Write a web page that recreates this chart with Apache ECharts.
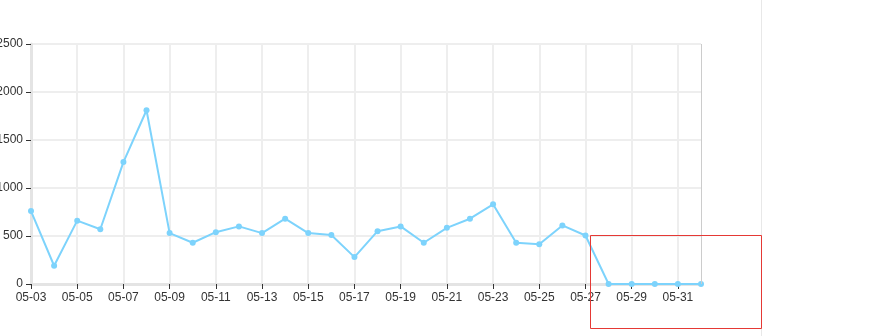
<!DOCTYPE html>
<html>
<head>
<meta charset="utf-8">
<script src="https://cdn.jsdelivr.net/npm/echarts@6/dist/echarts.min.js"></script>
<style>html,body{margin:0;padding:0;background:#fff;}#c{width:870px;height:336px;}</style>
</head>
<body>
<div id="c"></div>
<script>
const categories = ['05-03','05-04','05-05','05-06','05-07','05-08','05-09','05-10','05-11','05-12','05-13','05-14','05-15','05-16','05-17','05-18','05-19','05-20','05-21','05-22','05-23','05-24','05-25','05-26','05-27','05-28','05-29','05-30','05-31','06-01'];
const values = [760,190,660,570,1270,1810,530,430,540,600,530,680,530,510,280,550,600,430,585,680,830,430,415,610,505,0,0,0,0,0];
const yTicks = {min:0, max:2500, interval:500};

const chart = echarts.init(document.getElementById('c'), null, {renderer:'canvas'});
chart.setOption({
  animation:false,
  grid:{left:31, right:169, top:44, bottom:52, show:false, containLabel:false, outerBoundsMode:'none'},
  xAxis:{
    type:'category', data:categories, boundaryGap:false,
    axisLine:{lineStyle:{color:'#e4e4e4', width:3}},
    axisTick:{interval:1, length:5, lineStyle:{color:'#333'}},
    axisLabel:{interval:1, color:'#333', fontSize:12, fontFamily:'Arial, Liberation Sans', margin:8},
    splitLine:{show:true, interval:1, lineStyle:{color:'#eeeeee', width:2}}
  },
  yAxis:{
    type:'value', min:yTicks.min, max:yTicks.max, interval:yTicks.interval,
    axisLine:{show:true, lineStyle:{color:'#e4e4e4', width:3}},
    axisTick:{show:true, length:5, lineStyle:{color:'#333'}},
    axisLabel:{color:'#333', fontSize:12, fontFamily:'Arial, Liberation Sans', margin:8, formatter:function(v){return String(v);}},
    splitLine:{show:true, lineStyle:{color:'#eeeeee', width:2}}
  },
  series:[{
    type:'line', data:values, symbol:'circle', symbolSize:6,
    itemStyle:{color:'#7dd3fc'}, lineStyle:{color:'#7dd3fc', width:2},
    markLine:{silent:true, symbol:'none', label:{show:false},
      lineStyle:{color:'#cccccc', width:1, type:'solid'},
      data:[{xAxis:'06-01'}]}
  }],
  graphic:[
    {type:'line', z:100, shape:{x1:761.5,y1:0,x2:761.5,y2:336}, style:{stroke:'#e8e8e8', lineWidth:1}},
    {type:'rect', z:100, shape:{x:590.5,y:235.5,width:171,height:93}, style:{fill:'none', stroke:'#e53935', lineWidth:1}}
  ]
});
</script>
</body>
</html>
